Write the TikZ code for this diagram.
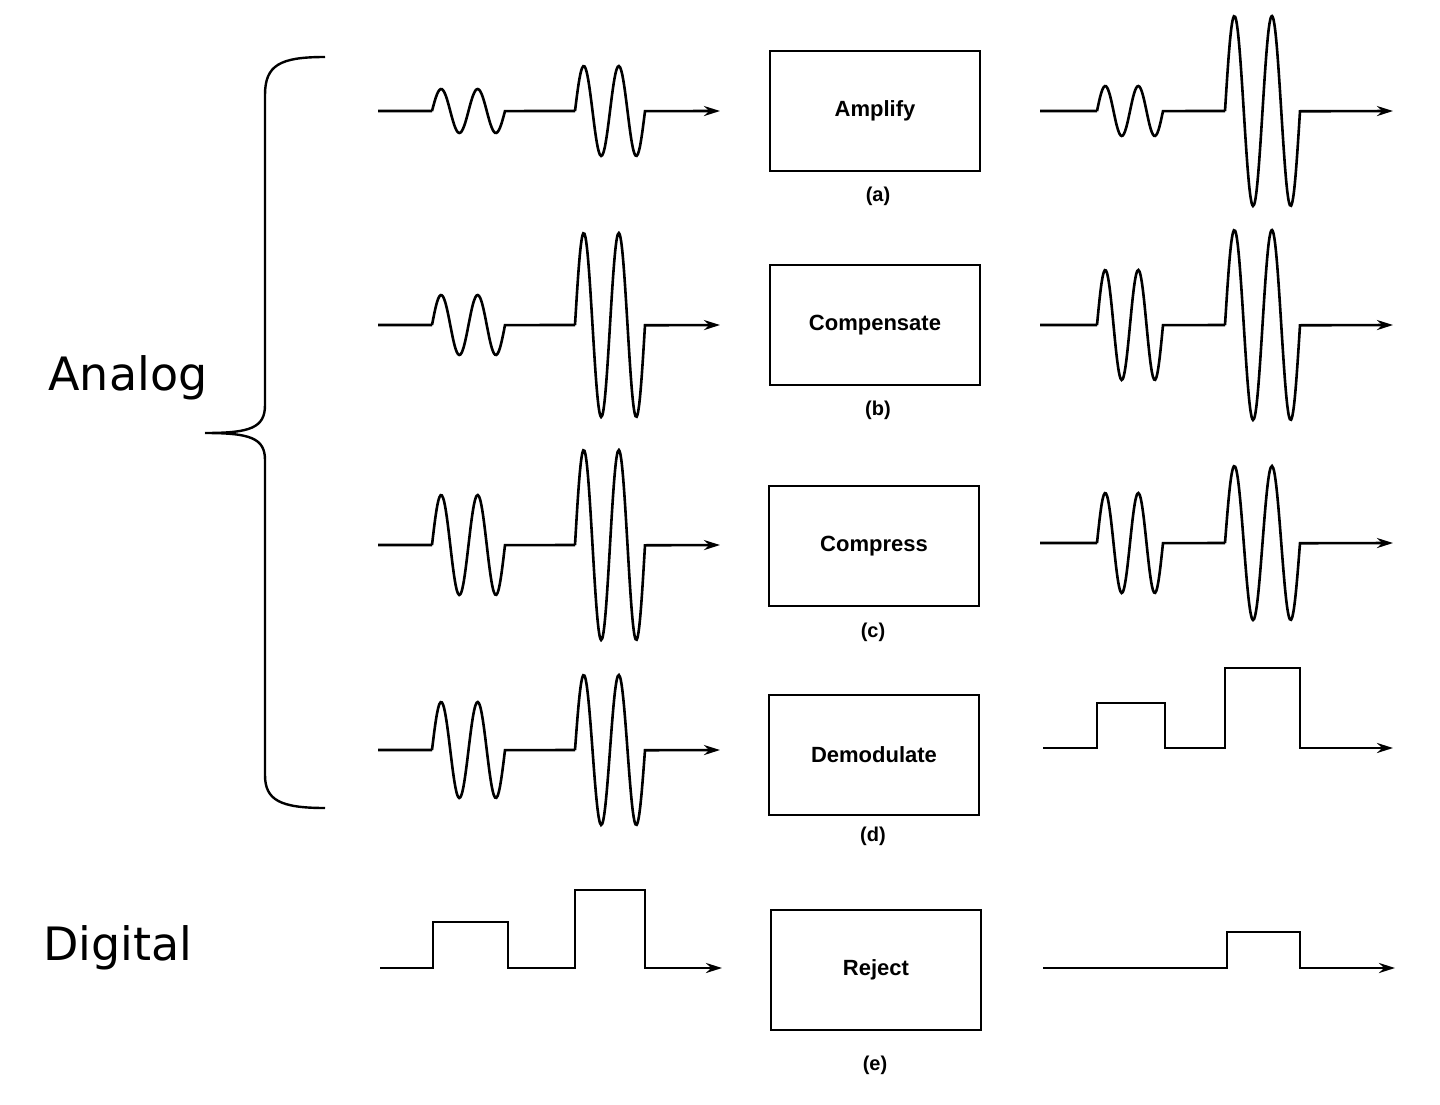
\documentclass[tikz,border=0pt]{standalone}
\usepackage{fontspec}
\setmainfont{Liberation Sans}
\newfontfamily\labelfont{DejaVu Sans}
\usetikzlibrary{arrows.meta}

% two sine cycles starting at (#1,#2), amplitude #3, width #4
\newcommand{\burst}[4]{plot[domain=0:2,samples=60,smooth] ({#1+#4*\x/2},{#2-#3*sin(\x*360)})}

\begin{document}
\begin{tikzpicture}[x=1pt,y=-1pt,line width=2.6pt,>={Stealth[length=16pt,width=10pt]},
    op box/.style={draw,line width=2.2pt,minimum width=210pt,minimum height=120pt,font=\bfseries\fontsize{22}{24}\selectfont},
    case label/.style={font=\bfseries\fontsize{20}{22}\selectfont},
    side label/.style={font=\labelfont\fontsize{46}{50}\selectfont}]
  \useasboundingbox (0,0) rectangle (1440,1105);

  % operations
  \node[op box] (amp)  at (875,111) {Amplify};
  \node[op box] (comp) at (875,325) {Compensate};
  \node[op box] (cmpr) at (874,546) {Compress};
  \node[op box] (dem)  at (874,755) {Demodulate};
  \node[op box] (rej)  at (876,970) {Reject};
  \node[case label] at (878,196) {(a)};
  \node[case label] at (878,410) {(b)};
  \node[case label] at (873,632) {(c)};
  \node[case label] at (873,836) {(d)};
  \node[case label] at (875,1065) {(e)};

  % signals in / out
  \coordinate (ina)  at (378,111);  \coordinate (outa) at (1040,111);
  \coordinate (inb)  at (378,325);  \coordinate (outb) at (1040,325);
  \coordinate (inc)  at (378,545);  \coordinate (outc) at (1040,543);
  \coordinate (ind)  at (378,750);  \coordinate (outd) at (1043,748);
  \coordinate (ine)  at (380,968);  \coordinate (oute) at (1043,968);

  \draw[->] (ina) -- (432,111) \burst{432}{111}{22}{73} -- (575,111) \burst{575}{111}{45}{70} -- (720,111);
  \draw[->] (outa) -- (1097,111) \burst{1097}{111}{25}{66} -- (1225,111) \burst{1225}{111}{95}{75} -- (1393,111);

  \draw[->] (inb) -- (432,325) \burst{432}{325}{30}{73} -- (575,325) \burst{575}{325}{92}{70} -- (720,325);
  \draw[->] (outb) -- (1097,325) \burst{1097}{325}{55}{66} -- (1225,325) \burst{1225}{325}{95}{75} -- (1393,325);

  \draw[->] (inc) -- (432,545) \burst{432}{545}{50}{73} -- (575,545) \burst{575}{545}{95}{70} -- (720,545);
  \draw[->] (outc) -- (1097,543) \burst{1097}{543}{50}{66} -- (1225,543) \burst{1225}{543}{77}{75} -- (1393,543);

  \draw[->] (ind) -- (432,750) \burst{432}{750}{48}{73} -- (575,750) \burst{575}{750}{75}{70} -- (720,750);
  \draw[->] (outd) -- (1097,748) |- (1165,703) |- (1225,748) |- (1300,668) |- (1393,748);

  \draw[->] (ine) -- (433,968) |- (508,922) |- (575,968) |- (645,890) |- (722,968);
  \draw[->] (oute) -- (1227,968) |- (1300,932) |- (1395,968);

  % brace
  \draw[line width=2.4pt] (325,57) .. controls (280,57) and (265,65) .. (265,95)
    -- (265,405) .. controls (265,428) and (250,433) .. (205,433)
    (205,433) .. controls (250,433) and (265,438) .. (265,460)
    -- (265,775) .. controls (265,800) and (280,808) .. (325,808);
  \node[side label] (analog)  at (128,378) {Analog};
  \node[side label] (digital) at (118,948) {Digital};
\end{tikzpicture}
\end{document}
